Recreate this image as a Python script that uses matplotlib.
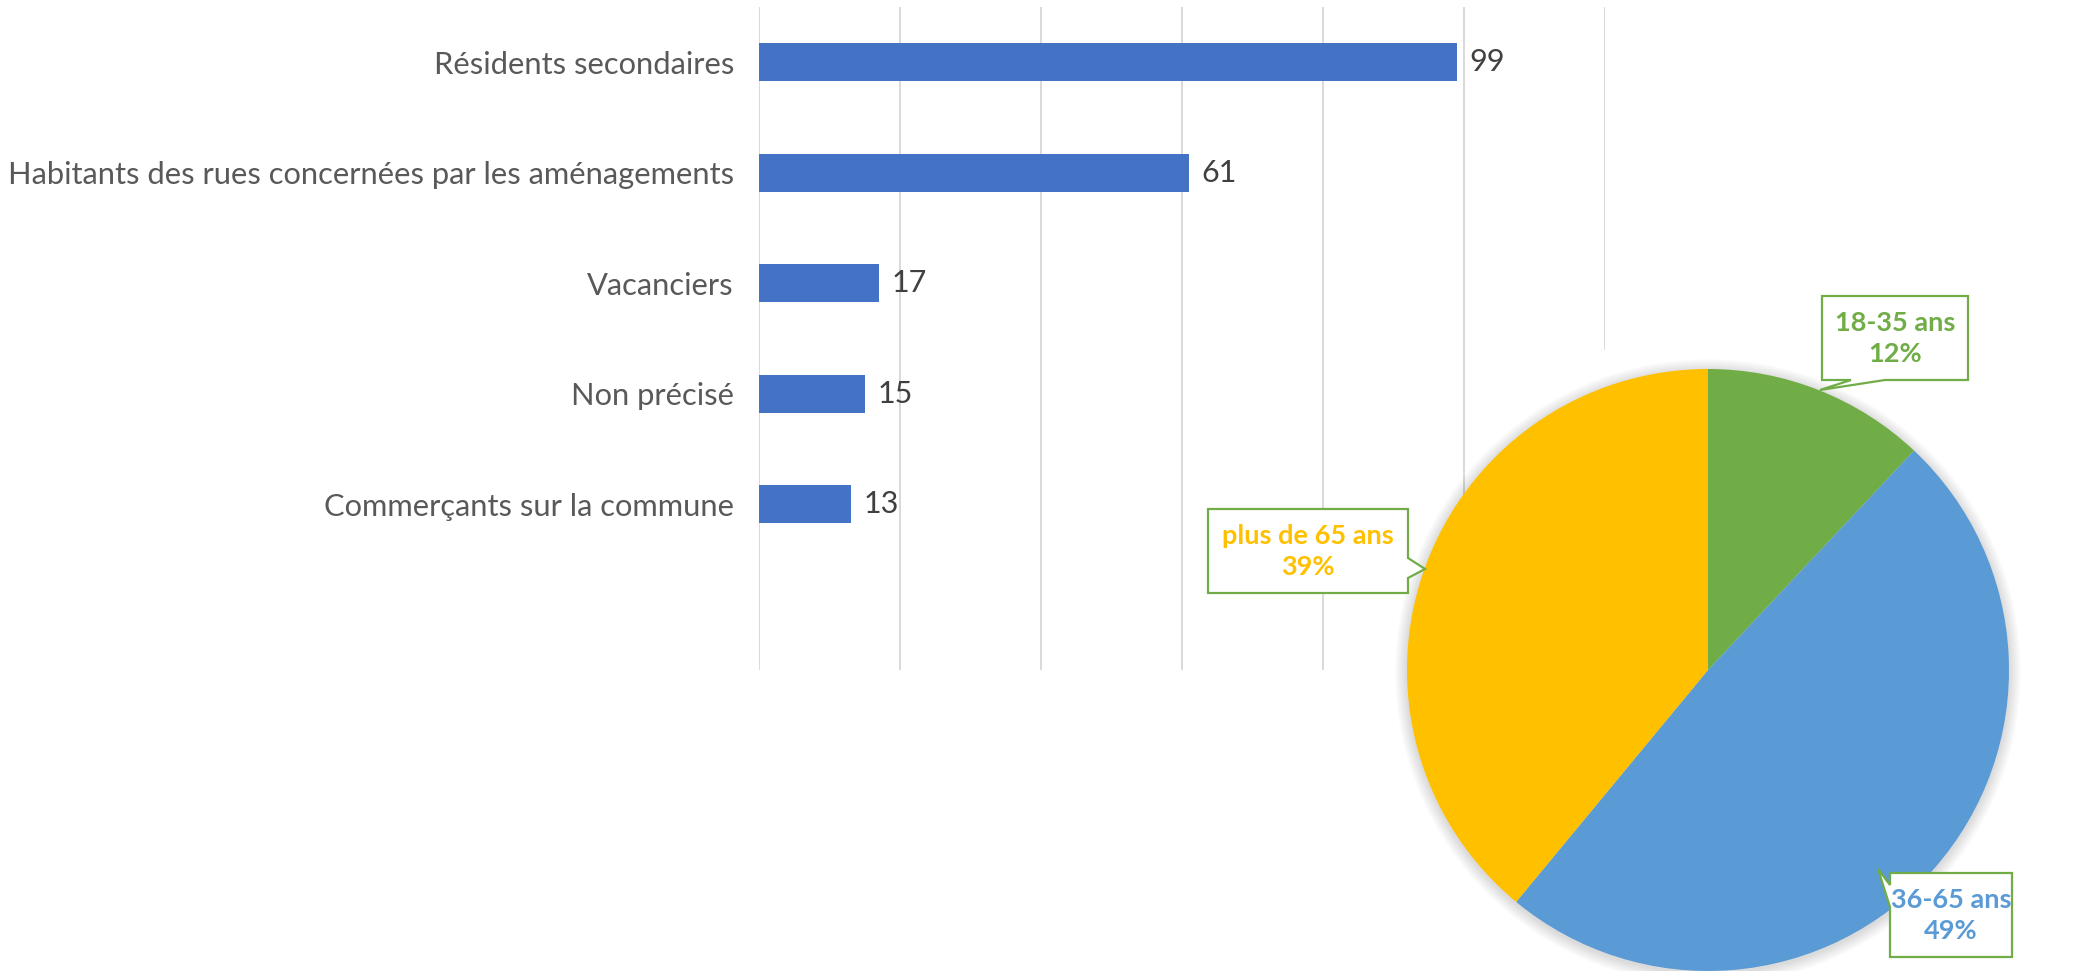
import matplotlib
matplotlib.use("Agg")
from matplotlib import pyplot as plt
from matplotlib import patches as patches

# bar chart data
categories = ["Résidents secondaires",
              "Habitants des rues concernées par les aménagements",
              "Vacanciers",
              "Non précisé",
              "Commerçants sur la commune"]
counts = [99, 61, 17, 15, 13]
x_ticks = [0, 20, 40, 60, 80, 100, 120]

# pie chart data
age_labels = ["18-35 ans", "36-65 ans", "plus de 65 ans"]
age_shares = [12, 49, 39]
age_colors = ["#70AD47", "#5B9BD5", "#FFC000"]

W, H = 2098, 971
plt.rcParams['font.family'] = ['Lato', 'DejaVu Sans']
fig = plt.figure(figsize=(W / 100, H / 100), dpi=100)

# ---- bar chart ----
ax = fig.add_axes([759 / W, (H - 670) / H, (1605 - 759) / W, 663 / H])
ypos = list(range(len(categories)))
ax.barh(ypos, counts, height=0.345, color="#4472C4", zorder=2)
ax.set_xlim(0, 120)
ax.set_ylim(5.5, -0.5)
ax.set_xticks(x_ticks)
ax.set_xticklabels([])
ax.tick_params(axis="x", length=0)
ax.grid(axis="x", color="#D9D9D9", linewidth=1.4, zorder=0)
ax.set_yticks(ypos)
ax.set_yticklabels(categories, fontsize=22.2, color="#595959")
ax.tick_params(axis="y", length=0, pad=18)
for s in ax.spines.values():
    s.set_visible(False)
for i, v in enumerate(counts):
    ax.annotate(str(v), (v, i), xytext=(9, 0), textcoords="offset points",
                va="center", ha="left", fontsize=22, color="#404040")

# ---- pie chart overlay (pixel coords, y up) ----
ov = fig.add_axes([0, 0, 1, 1], zorder=5)
ov.patch.set_alpha(0)

ov.add_patch(patches.Rectangle((1466, 0), W - 1466, 621, facecolor="white",
                               edgecolor="none", zorder=1))

cx, cy, r = 1708, 301, 301
for k in range(12, 0, -1):
    ov.add_patch(patches.Circle((cx, cy - 2), r + k, facecolor="black",
                                edgecolor="none", alpha=0.012, zorder=2))

wedges, _ = ov.pie(age_shares, colors=age_colors, startangle=90,
                   counterclock=False, center=(cx, cy), radius=r,
                   frame=True, wedgeprops=dict(linewidth=0))
for w in wedges:
    w.set_zorder(3)
ov.set_xlim(0, W)
ov.set_ylim(0, H)
ov.set_aspect("auto")
ov.axis("off")

# callout boxes: outline polygons
green_box = [(1822, 675), (1968, 675), (1968, 591), (1885, 591), (1820, 581),
             (1851, 591), (1822, 591)]
orange_box = [(1208, 462), (1408, 462), (1408, 413), (1425, 402), (1408, 393),
              (1408, 378), (1208, 378)]
blue_box = [(1890, 98), (2012, 98), (2012, 14), (1890, 14), (1890, 64),
            (1878, 102), (1890, 86)]
for poly in [green_box, blue_box, orange_box]:
    ov.add_patch(patches.Polygon(poly, closed=True, facecolor="white",
                                 edgecolor="#70AD47", linewidth=1.6, zorder=6,
                                 clip_on=False))

text_pos = [(1895, 633), (1951, 56), (1308, 420)]
for lab, v, col, (tx, ty) in zip(age_labels, age_shares, age_colors, text_pos):
    ov.text(tx, ty, f"{lab}\n{v}%", ha="center", va="center", fontsize=19.5,
            fontweight="bold", color=col, linespacing=1.35, zorder=7)

fig.savefig("out.png", dpi=100)
